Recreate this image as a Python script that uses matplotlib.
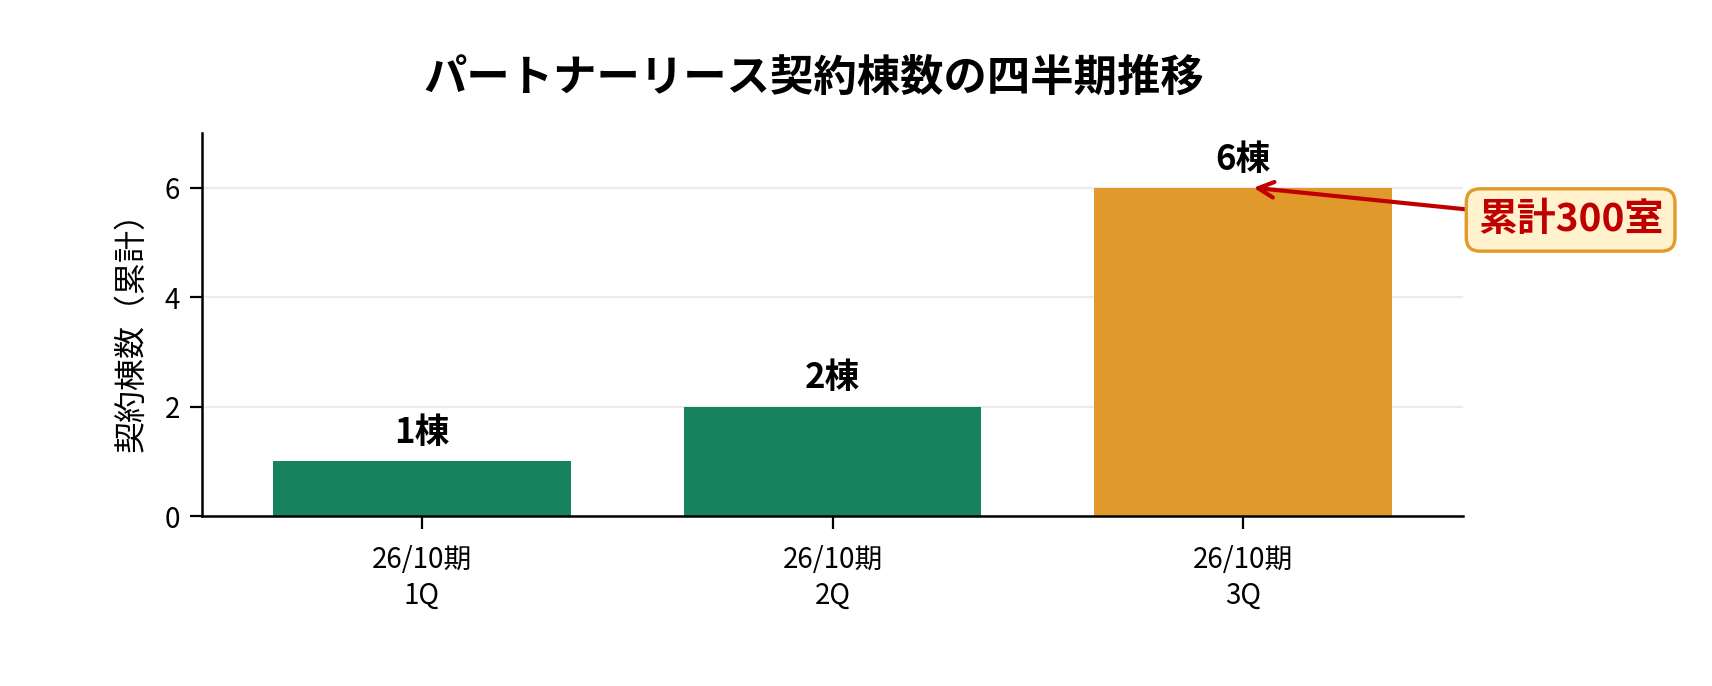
import matplotlib
matplotlib.use("Agg")
import matplotlib.pyplot as plt

plt.rcParams['font.family'] = ['Noto Sans CJK JP', 'DejaVu Sans']

categories = ["26/10期\n1Q", "26/10期\n2Q", "26/10期\n3Q"]
values = [1, 2, 6]
value_labels = ["1棟", "2棟", "6棟"]
bar_colors = ["#18825F", "#18825F", "#E09A2B"]
title = "パートナーリース契約棟数の四半期推移"
ylabel = "契約棟数（累計）"
note = "累計300室"
yticks = [0, 2, 4, 6]

fig = plt.figure(figsize=(8.56, 3.43), dpi=200)
ax = fig.add_axes([202/1712, 170/686, (1463-202)/1712, (516-133)/686])

x = list(range(len(categories)))
ax.bar(x, values, width=0.725, color=bar_colors, zorder=3)

ax.set_xlim(-0.535, 2.535)
ax.set_ylim(0, 7)
ax.set_yticks(yticks)
ax.set_xticks(x)
ax.set_xticklabels(categories, fontsize=10, linespacing=1.25)
ax.tick_params(axis='y', labelsize=10, length=4.5, width=0.8)
ax.tick_params(axis='x', length=4.5, width=0.8, pad=6)
ax.set_ylabel(ylabel, fontsize=11.5, labelpad=6)

ax.grid(axis='y', color='#EBEBEB', linewidth=0.8, zorder=0)
ax.set_axisbelow(True)
for s in ['top', 'right']:
    ax.spines[s].set_visible(False)
for s in ['left', 'bottom']:
    ax.spines[s].set_linewidth(0.9)
    ax.spines[s].set_zorder(4)

for xi, v, lab in zip(x, values, value_labels):
    ax.annotate(lab, xy=(xi, v), xytext=(0, 4), textcoords='offset points',
                ha='center', va='bottom', fontsize=12.5, fontweight='bold',
                color='#000000')

ax.annotate(note, xy=(2.025, values[2]), xytext=(2.797, 5.41), textcoords='data',
            ha='center', va='center', fontsize=14, fontweight='bold',
            color='#C00000', annotation_clip=False,
            bbox=dict(boxstyle='round,pad=0.3,rounding_size=0.35',
                      facecolor='#FFF2CC', edgecolor='#E09A2B', linewidth=1.2),
            arrowprops=dict(arrowstyle='->', color='#C00000', lw=1.5,
                            shrinkA=0, shrinkB=0))

fig.text(814/1712, 1 - 78/686, title, ha='center', va='center',
         fontsize=15.6, fontweight='bold', color='#000000')

fig.savefig("out.png", dpi=200)
